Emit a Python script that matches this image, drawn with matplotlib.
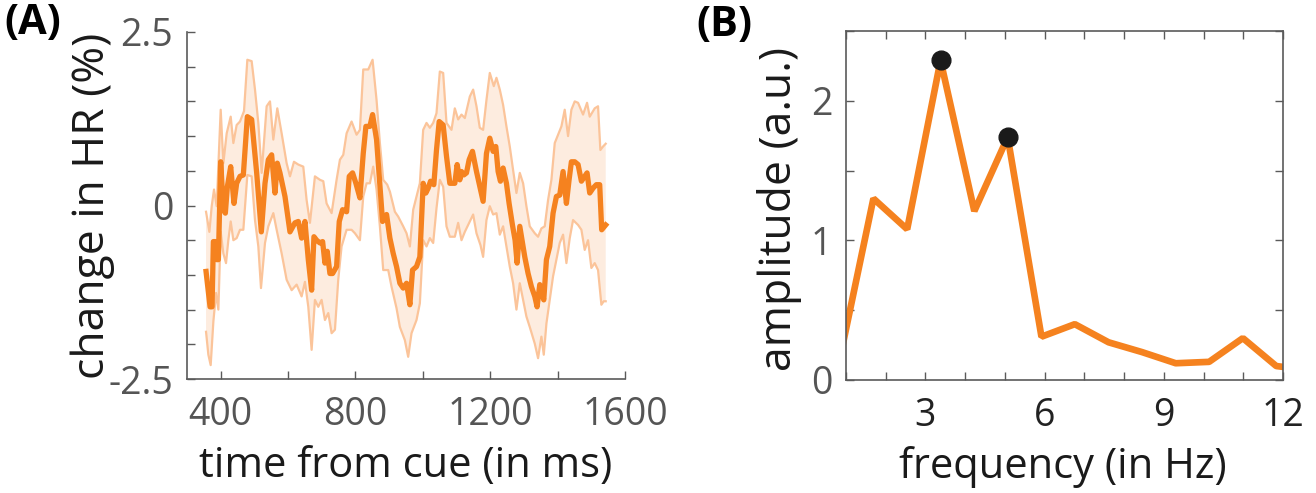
import numpy as np
import matplotlib
matplotlib.use("Agg")
import matplotlib.pyplot as plt
from matplotlib.ticker import MultipleLocator

plt.rcParams['font.family'] = ['Open Sans', 'DejaVu Sans']

# ---------------- Panel A data ----------------
mean_t = [356.5, 368.4, 374.3, 378.3, 384.2, 388.1, 393.1, 400.0, 407.9, 413.8, 419.8, 429.7, 439.5, 447.4,
          457.3, 467.2, 479.1, 491.9, 506.8, 520.6, 531.5, 541.4, 551.2, 561.1, 568.0, 575.9, 590.8, 605.6,
          620.4, 630.3, 640.2, 650.1, 660.0, 669.9, 676.8, 684.7, 694.6, 702.5, 709.4, 716.3, 724.2, 732.1,
          744.0, 751.9, 761.8, 773.7, 781.6, 791.4, 801.3, 813.2, 823.1, 831.0, 842.8, 850.8, 862.6, 870.5,
          880.4, 892.3, 902.2, 912.0, 921.9, 931.8, 941.7, 951.6, 961.5, 969.4, 981.2, 991.1, 1001.0, 1008.9,
          1015.8, 1022.8, 1032.6, 1040.5, 1048.5, 1060.3, 1070.2, 1080.1, 1094.9, 1101.8, 1109.7, 1114.7,
          1121.6, 1129.5, 1137.4, 1147.3, 1159.2, 1171.0, 1178.9, 1188.8, 1198.7, 1208.6, 1216.5, 1223.4,
          1230.3, 1238.2, 1248.1, 1256.0, 1265.9, 1273.8, 1279.8, 1287.7, 1295.6, 1302.5, 1312.4, 1322.3,
          1332.2, 1339.1, 1347.0, 1352.9, 1358.9, 1366.8, 1376.6, 1386.5, 1396.4, 1406.3, 1416.2, 1426.1,
          1434.0, 1440.9, 1450.8, 1460.7, 1470.6, 1480.4, 1487.4, 1495.3, 1505.1, 1515.0, 1524.9, 1530.8,
          1542.7]
mean_hr = [-0.95, -1.46, -1.46, -0.52, -0.52, -0.78, -0.78, 0.63, -0.06, -0.11, 0.27, 0.56, 0.03, 0.32,
           0.42, 0.44, 1.28, 1.24, 0.47, -0.38, 0.32, 0.66, 0.73, 0.18, 0.61, 0.47, 0.13, -0.38,
           -0.25, -0.23, -0.47, -0.23, -0.78, -1.22, -0.45, -0.50, -0.54, -0.52, -0.83, -0.66, -0.98, -0.98,
           -0.88, -0.23, -0.06, -0.09, 0.42, 0.47, 0.32, 0.11, 0.75, 1.14, 1.14, 1.31, 0.95, 0.42,
           -0.23, -0.13, -0.47, -0.69, -0.88, -1.12, -1.19, -1.12, -1.43, -0.93, -0.88, -0.74, 0.32, 0.18,
           0.25, 0.35, 0.30, 0.80, 1.21, 1.16, 0.71, 0.32, 0.32, 0.59, 0.37, 0.49,
           0.44, 0.47, 0.66, 0.78, 0.49, 0.23, 0.06, 0.75, 0.97, 0.78, 0.85, 0.49,
           0.35, 0.54, 0.32, 0.03, -0.28, -0.50, -0.83, -0.30, -0.54, -0.74, -0.98, -1.17,
           -1.31, -1.46, -1.14, -1.26, -1.36, -0.78, -0.59, -0.11, 0.13, 0.15, 0.49, 0.03,
           0.37, 0.63, 0.63, 0.59, 0.35, 0.42, 0.47, 0.18, 0.25, 0.30, 0.30, -0.35,
           -0.28]

upper_t = [356.5, 366.4, 373.3, 380.2, 388.1, 400.0, 407.9, 417.8, 429.7, 437.6, 447.4, 457.3, 469.2, 479.1,
           491.9, 501.8, 511.7, 521.6, 536.4, 546.3, 556.2, 568.0, 580.9, 595.7, 605.6, 617.5, 630.3, 645.1,
           655.0, 664.9, 679.7, 694.6, 704.5, 714.3, 729.2, 744.0, 753.9, 763.8, 773.7, 788.5, 803.3, 813.2,
           823.1, 837.9, 850.8, 862.6, 872.5, 882.4, 894.3, 902.2, 917.0, 926.9, 941.7, 951.6, 961.5, 971.4,
           991.1, 1001.0, 1010.9, 1020.8, 1030.7, 1040.5, 1050.4, 1060.3, 1070.2, 1085.0, 1094.9, 1104.8,
           1114.7, 1124.6, 1139.4, 1149.3, 1159.2, 1169.0, 1178.9, 1188.8, 1198.7, 1210.6, 1218.5, 1228.4,
           1238.2, 1248.1, 1258.0, 1267.9, 1277.8, 1287.7, 1297.6, 1307.4, 1317.3, 1332.2, 1342.0, 1351.9,
           1361.8, 1371.7, 1381.6, 1391.5, 1401.4, 1411.3, 1421.1, 1431.0, 1440.9, 1450.8, 1460.7, 1475.5,
           1487.4, 1495.3, 1510.1, 1520.0, 1526.9, 1534.8, 1542.7]
upper_hr = [-0.09, -0.38, -0.01, 0.23, -0.01, 1.38, 0.61, 1.04, 1.28, 0.90, 1.16, 1.21, 1.36, 2.10,
            2.08, 1.67, 1.19, 0.47, 1.43, 1.50, 0.95, 1.40, 1.04, 0.61, 0.42, 0.63, 0.59, 0.56,
            0.08, -0.25, 0.42, 0.37, 0.35, 0.03, -0.11, 0.37, 0.66, 0.73, 1.04, 1.21, 1.02, 1.09,
            1.96, 1.96, 2.10, 1.52, 0.90, 0.37, 0.30, 0.20, -0.09, -0.16, -0.30, -0.40, -0.59, -0.06,
            0.32, 1.09, 1.19, 1.12, 1.19, 1.33, 1.93, 1.91, 1.19, 1.09, 1.40, 1.24,
            1.31, 1.26, 1.57, 1.67, 1.43, 1.12, 1.09, 1.52, 1.91, 1.72, 1.84, 1.67,
            1.45, 1.14, 0.85, 0.51, 0.18, 0.47, 0.32, -0.01, -0.30, -0.40, -0.45, -0.33,
            -0.30, 0.08, 0.37, 0.90, 1.02, 1.14, 1.38, 1.00, 1.38, 1.50, 1.48, 1.31,
            1.48, 1.28, 1.40, 1.43, 0.80, 0.85, 0.89]

lower_t = [356.5, 363.4, 370.3, 378.3, 386.2, 393.1, 400.0, 407.9, 415.8, 422.7, 429.7, 437.6, 447.4, 457.3,
           467.2, 479.1, 491.9, 501.8, 511.7, 519.6, 531.5, 541.4, 556.2, 566.1, 580.9, 595.7, 610.6, 625.4,
           640.2, 650.1, 660.0, 669.9, 679.7, 689.6, 699.5, 709.4, 719.3, 729.2, 739.1, 748.9, 758.8, 773.7,
           788.5, 798.4, 813.2, 823.1, 833.0, 842.8, 852.7, 862.6, 872.5, 882.4, 897.2, 907.1, 921.9, 931.8,
           946.6, 956.5, 966.4, 981.2, 991.1, 1001.0, 1010.9, 1020.8, 1030.7, 1040.5, 1050.4, 1060.3, 1070.2,
           1080.1, 1094.9, 1104.8, 1114.7, 1124.6, 1139.4, 1149.3, 1159.2, 1171.0, 1178.9, 1188.8, 1198.7,
           1208.6, 1218.5, 1228.4, 1238.2, 1248.1, 1258.0, 1267.9, 1277.8, 1287.7, 1297.6, 1307.4, 1317.3,
           1332.2, 1342.0, 1351.9, 1358.9, 1366.8, 1376.6, 1386.5, 1396.4, 1406.3, 1416.2, 1426.1, 1436.0,
           1445.8, 1460.7, 1470.6, 1480.4, 1490.3, 1500.2, 1510.1, 1520.0, 1529.9, 1536.8, 1542.7]
lower_hr = [-1.82, -2.15, -2.30, -1.67, -1.26, -1.50, -0.38, -0.69, -0.83, -0.50, -0.23, -0.50, -0.47, -0.35,
            -0.35, 0.44, 0.42, -0.21, -0.59, -1.19, -0.54, -0.30, -0.11, -0.35, -0.69, -1.07, -1.22, -1.14,
            -1.31, -1.10, -1.46, -2.08, -1.36, -1.46, -1.36, -1.65, -1.55, -1.84, -1.79, -1.07, -0.59, -0.35,
            -0.35, -0.40, -0.50, 0.13, 0.32, 0.32, 0.56, 0.23, -0.30, -0.93, -0.93, -1.17, -1.48, -1.75,
            -1.94, -2.18, -1.84, -1.65, -1.41, -0.50, -0.59, -0.47, -0.54, -0.04, 0.37, 0.27, -0.30,
            -0.45, -0.45, -0.25, -0.50, -0.38, -0.23, -0.13, -0.40, -0.57, -0.74, -0.21, -0.01,
            -0.13, -0.11, -0.42, -0.30, -0.59, -0.88, -1.12, -1.50, -1.12, -1.36, -1.60, -1.75,
            -1.99, -2.20, -1.89, -2.15, -1.70, -1.36, -1.02, -0.78, -0.54, -0.42, -0.83, -0.47,
            -0.21, -0.28, -0.35, -0.64, -0.50, -0.90, -0.83, -0.93, -1.43, -1.38, -1.38]

a_xticks = [400, 800, 1200, 1600]
a_yticks = [-2.5, 0, 2.5]
a_yticklabels = ['-2.5', '0', '2.5']

# ---------------- Panel B data ----------------
freq_hz = [0.85, 1.69, 2.54, 3.38, 4.23, 5.07, 5.92, 6.76, 7.61, 8.45, 9.30, 10.14, 10.99, 11.83, 12.68]
amplitude = [0.16, 1.30, 1.08, 2.29, 1.21, 1.74, 0.31, 0.40, 0.27, 0.20, 0.12, 0.13, 0.30, 0.10, 0.07]
peak_freq = [3.38, 5.07]
peak_amp = [2.29, 1.74]
b_xticks = [3, 6, 9, 12]
b_yticks = [0, 1, 2]

ORANGE = '#F5821F'
BAND_EDGE = '#FBC49A'
BAND_FILL = '#FDECDF'
TICK_GRAY = '#555555'
SPINE_GRAY = '#5a5a5a'
TICK_FS = 27
LABEL_X_FS = 30
LABEL_Y_FS = 32

fig = plt.figure(figsize=(13.16, 4.93), dpi=100)

# ---------------- Panel A ----------------
axA = fig.add_axes([187/1316, 1 - 379/493, 438/1316, 347/493])
poly_t = np.concatenate([upper_t, lower_t[::-1]])
poly_v = np.concatenate([upper_hr, lower_hr[::-1]])
axA.fill(poly_t, poly_v, color=BAND_FILL, lw=0, zorder=1)
axA.plot(upper_t, upper_hr, color=BAND_EDGE, lw=1.6, zorder=2)
axA.plot(lower_t, lower_hr, color=BAND_EDGE, lw=1.6, zorder=2)
axA.plot(mean_t, mean_hr, color=ORANGE, lw=3.8, zorder=3, solid_joinstyle='round')
axA.set_xlim(300, 1600)
axA.set_ylim(-2.5, 2.5)
axA.set_xticks(a_xticks)
axA.xaxis.set_minor_locator(MultipleLocator(200))
axA.set_yticks(a_yticks)
axA.set_yticklabels(a_yticklabels)
axA.yaxis.set_minor_locator(MultipleLocator(0.5))
for s in ['top', 'right']:
    axA.spines[s].set_visible(False)
for s in ['left', 'bottom']:
    axA.spines[s].set_color(SPINE_GRAY)
    axA.spines[s].set_linewidth(1.2)
axA.tick_params(which='both', direction='in', color=SPINE_GRAY, width=1.0)
axA.tick_params(which='major', length=6, labelsize=TICK_FS, labelcolor=TICK_GRAY)
axA.tick_params(axis='x', which='major', pad=12)
axA.tick_params(axis='y', which='major', pad=10)
axA.tick_params(which='minor', length=6)
axA.set_xlabel('time from cue (in ms)', fontsize=LABEL_X_FS, color='#1a1a1a', va='center')
axA.xaxis.set_label_coords(0.5, -0.25)
axA.set_ylabel('change in HR (%)', fontsize=LABEL_Y_FS, color='#1a1a1a', va='center')
axA.yaxis.set_label_coords(-0.215, 0.5)
fig.text(4/1316, 1 - 23/493, '(A)', fontsize=30, fontweight='bold', va='center', ha='left')

# ---------------- Panel B ----------------
axB = fig.add_axes([846/1316, 1 - 380/493, 437/1316, 349/493])
axB.plot(freq_hz, amplitude, color=ORANGE, lw=4.8, zorder=2, solid_joinstyle='bevel')
axB.plot(peak_freq, peak_amp, 'o', color='#1a1a1a', ms=13.5, zorder=3)
axB.set_xlim(1, 12)
axB.set_ylim(0, 2.5)
axB.set_xticks(b_xticks)
axB.xaxis.set_minor_locator(MultipleLocator(1))
axB.set_yticks(b_yticks)
axB.yaxis.set_minor_locator(MultipleLocator(0.5))
for s in axB.spines.values():
    s.set_color(SPINE_GRAY)
    s.set_linewidth(1.2)
axB.tick_params(which='both', direction='in', color=SPINE_GRAY, width=1.0,
                top=True, right=True)
axB.tick_params(which='major', length=6, labelsize=TICK_FS)
axB.tick_params(axis='x', which='major', pad=12, labelcolor='#222222')
axB.tick_params(axis='y', which='major', pad=10, labelcolor=TICK_GRAY)
axB.tick_params(which='minor', length=6)
axB.set_xlabel('frequency (in Hz)', fontsize=LABEL_X_FS, color='#1a1a1a', va='center')
axB.xaxis.set_label_coords(0.497, -0.25)
axB.set_ylabel('amplitude (a.u.)', fontsize=LABEL_Y_FS, color='#1a1a1a', va='center')
axB.yaxis.set_label_coords(-0.153, 0.49)
fig.text(696/1316, 1 - 25/493, '(B)', fontsize=30, fontweight='bold', va='center', ha='left')

fig.savefig('out.png', dpi=100)
